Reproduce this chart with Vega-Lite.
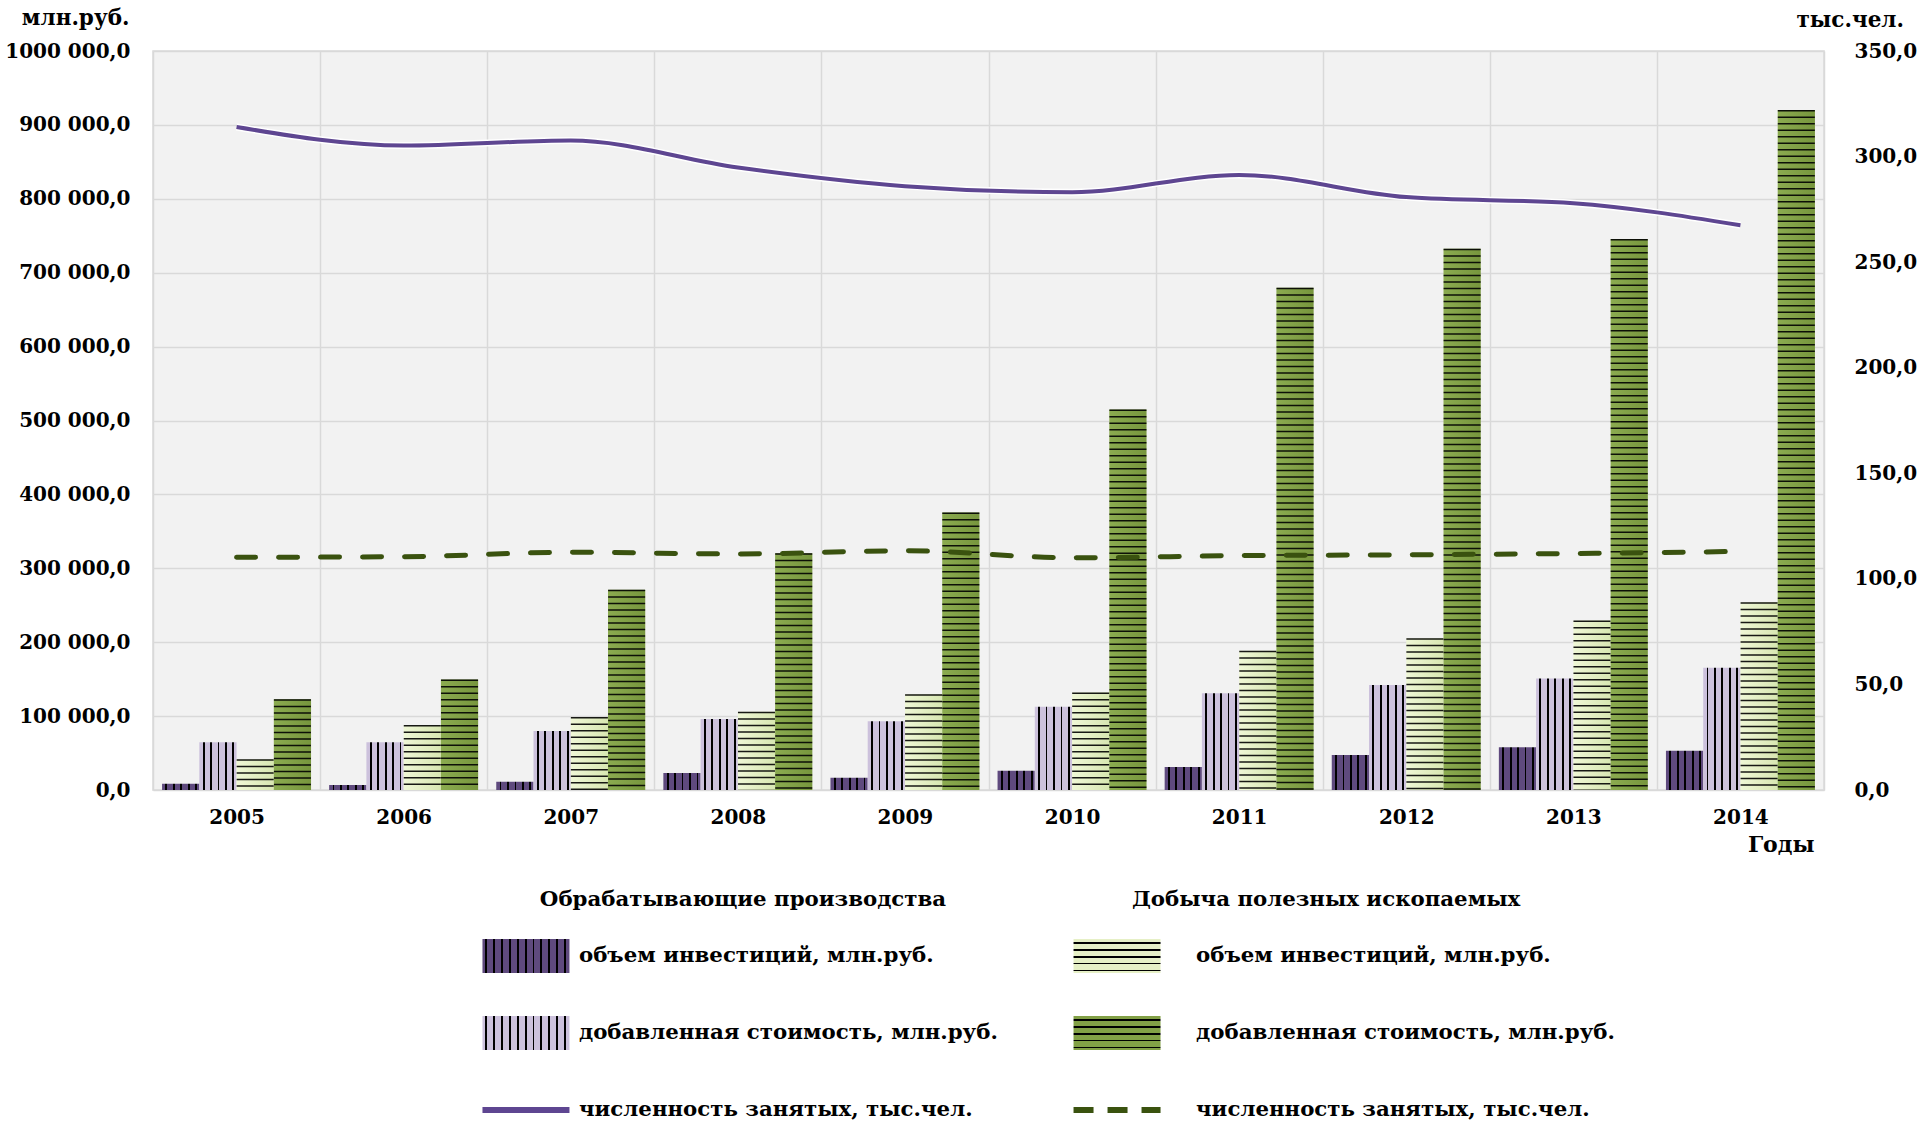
{
  "$schema": "https://vega.github.io/schema/vega-lite/v6.json",
  "padding": {"left": 3, "top": 6, "right": 5, "bottom": 0},
  "background": "white",
  "bounds": "flush",
  "spacing": 89,
  "config": {
    "locale": {"number": {"decimal": ",", "thousands": " ", "grouping": [3], "currency": ["", ""]}},
    "view": {"stroke": null},
    "axis": {"labelFont": "DejaVu Serif", "titleFont": "DejaVu Serif", "labelFontWeight": "bold", "titleFontWeight": "bold", "labelColor": "#000", "titleColor": "#000", "labelFontSize": 20, "titleFontSize": 21.5, "ticks": false, "domain": false},
    "text": {"font": "DejaVu Serif", "fontWeight": "bold", "fontSize": 21.3, "color": "#000"}
  },
  "datasets": {
    "bars": [
      {"year": "2005", "series": "obr_inv", "value": 8500}, {"year": "2005", "series": "obr_va", "value": 64500}, {"year": "2005", "series": "dob_inv", "value": 41500}, {"year": "2005", "series": "dob_va", "value": 122800},
      {"year": "2006", "series": "obr_inv", "value": 6800}, {"year": "2006", "series": "obr_va", "value": 64500}, {"year": "2006", "series": "dob_inv", "value": 88000}, {"year": "2006", "series": "dob_va", "value": 149500},
      {"year": "2007", "series": "obr_inv", "value": 11200}, {"year": "2007", "series": "obr_va", "value": 80000}, {"year": "2007", "series": "dob_inv", "value": 98800}, {"year": "2007", "series": "dob_va", "value": 271000},
      {"year": "2008", "series": "obr_inv", "value": 23000}, {"year": "2008", "series": "obr_va", "value": 96000}, {"year": "2008", "series": "dob_inv", "value": 106000}, {"year": "2008", "series": "dob_va", "value": 320500},
      {"year": "2009", "series": "obr_inv", "value": 16500}, {"year": "2009", "series": "obr_va", "value": 93000}, {"year": "2009", "series": "dob_inv", "value": 129500}, {"year": "2009", "series": "dob_va", "value": 375500},
      {"year": "2010", "series": "obr_inv", "value": 26000}, {"year": "2010", "series": "obr_va", "value": 112500}, {"year": "2010", "series": "dob_inv", "value": 132000}, {"year": "2010", "series": "dob_va", "value": 515000},
      {"year": "2011", "series": "obr_inv", "value": 31000}, {"year": "2011", "series": "obr_va", "value": 131000}, {"year": "2011", "series": "dob_inv", "value": 188500}, {"year": "2011", "series": "dob_va", "value": 679500},
      {"year": "2012", "series": "obr_inv", "value": 47500}, {"year": "2012", "series": "obr_va", "value": 142000}, {"year": "2012", "series": "dob_inv", "value": 205500}, {"year": "2012", "series": "dob_va", "value": 732500},
      {"year": "2013", "series": "obr_inv", "value": 58000}, {"year": "2013", "series": "obr_va", "value": 151000}, {"year": "2013", "series": "dob_inv", "value": 229500}, {"year": "2013", "series": "dob_va", "value": 745500},
      {"year": "2014", "series": "obr_inv", "value": 53000}, {"year": "2014", "series": "obr_va", "value": 165500}, {"year": "2014", "series": "dob_inv", "value": 254000}, {"year": "2014", "series": "dob_va", "value": 920000}
    ],
    "emp": [
      {"year": "2005", "group": "obr", "employed": 314.0}, {"year": "2006", "group": "obr", "employed": 305.2}, {"year": "2007", "group": "obr", "employed": 307.6}, {"year": "2008", "group": "obr", "employed": 294.8}, {"year": "2009", "group": "obr", "employed": 286.0},
      {"year": "2010", "group": "obr", "employed": 283.1}, {"year": "2011", "group": "obr", "employed": 291.3}, {"year": "2012", "group": "obr", "employed": 280.8}, {"year": "2013", "group": "obr", "employed": 277.9}, {"year": "2014", "group": "obr", "employed": 267.5},
      {"year": "2005", "group": "dob", "employed": 110.2}, {"year": "2006", "group": "dob", "employed": 110.5}, {"year": "2007", "group": "dob", "employed": 112.6}, {"year": "2008", "group": "dob", "employed": 111.8}, {"year": "2009", "group": "dob", "employed": 113.3},
      {"year": "2010", "group": "dob", "employed": 110.0}, {"year": "2011", "group": "dob", "employed": 111.0}, {"year": "2012", "group": "dob", "employed": 111.4}, {"year": "2013", "group": "dob", "employed": 112.0}, {"year": "2014", "group": "dob", "employed": 113.0}
    ],
    "leg": [
      {"grp": "obr", "row": "h", "label": "Обрабатывающие производства", "key": "h1"},
      {"grp": "obr", "row": "r1", "label": "объем инвестиций, млн.руб.", "key": "obr_inv"},
      {"grp": "obr", "row": "r2", "label": "добавленная стоимость, млн.руб.", "key": "obr_va"},
      {"grp": "obr", "row": "r3", "label": "численность занятых, тыс.чел.", "key": "obr_emp"},
      {"grp": "dob", "row": "h", "label": "Добыча полезных ископаемых", "key": "h2"},
      {"grp": "dob", "row": "r1", "label": "объем инвестиций, млн.руб.", "key": "dob_inv"},
      {"grp": "dob", "row": "r2", "label": "добавленная стоимость, млн.руб.", "key": "dob_va"},
      {"grp": "dob", "row": "r3", "label": "численность занятых, тыс.чел.", "key": "dob_emp"}
    ]
  },
  "vconcat": [
    {
      "width": 1671,
      "height": 739,
      "view": {"fill": "#f2f2f2", "stroke": "#d9d9d9", "strokeWidth": 1.5},
      "encoding": {
        "x": {
          "field": "year", "type": "ordinal",
          "scale": {"paddingInner": 0, "paddingOuter": 0},
          "axis": {"title": "Годы", "titleX": 1661, "titleY": 54, "titleAlign": "right", "titleBaseline": "middle", "titleAnchor": "end", "titleFontSize": 22,
            "labelAngle": 0, "labelFontSize": 20, "labelPadding": 17, "grid": true, "tickBand": "extent", "gridColor": "#d9d9d9", "gridWidth": 1.5}
        }
      },
      "layer": [
        {
          "data": {"name": "bars"},
          "encoding": {
            "xOffset": {"field": "series", "type": "nominal", "scale": {"domain": ["obr_inv", "obr_va", "dob_inv", "dob_va"], "paddingInner": 0, "paddingOuter": 0.243}},
            "y": {
              "field": "value", "type": "quantitative",
              "scale": {"domain": [0, 1000000], "nice": false},
              "axis": {"title": "млн.руб.", "titleAngle": 0, "titleX": -24, "titleY": -33, "titleAlign": "right", "titleBaseline": "middle",
                "values": [0, 100000, 200000, 300000, 400000, 500000, 600000, 700000, 800000, 900000, 1000000],
                "format": ",.1f", "labelExpr": "datum.value >= 1000000 ? replace(datum.label, '1 000', '1000') : datum.label",
                "labelPadding": 23, "grid": true, "gridColor": "#d9d9d9", "gridWidth": 1.5}
            }
          },
          "layer": [
            {
              "transform": [{"filter": "datum.series == 'obr_inv'"}],
              "mark": {"type": "bar", "fill": {"gradient": "linear", "x1": 0, "y1": 0, "x2": 1, "y2": 0, "stops": [
                {"offset": 0, "color": "#5f4a7e"}, {"offset": 0.09, "color": "#5f4a7e"}, {"offset": 0.09, "color": "#000"}, {"offset": 0.14, "color": "#000"}, {"offset": 0.14, "color": "#5f4a7e"},
                {"offset": 0.29, "color": "#5f4a7e"}, {"offset": 0.29, "color": "#000"}, {"offset": 0.34, "color": "#000"}, {"offset": 0.34, "color": "#5f4a7e"},
                {"offset": 0.49, "color": "#5f4a7e"}, {"offset": 0.49, "color": "#000"}, {"offset": 0.54, "color": "#000"}, {"offset": 0.54, "color": "#5f4a7e"},
                {"offset": 0.69, "color": "#5f4a7e"}, {"offset": 0.69, "color": "#000"}, {"offset": 0.74, "color": "#000"}, {"offset": 0.74, "color": "#5f4a7e"},
                {"offset": 0.89, "color": "#5f4a7e"}, {"offset": 0.89, "color": "#000"}, {"offset": 0.94, "color": "#000"}, {"offset": 0.94, "color": "#5f4a7e"}, {"offset": 1, "color": "#5f4a7e"}]}}
            },
            {
              "transform": [{"filter": "datum.series == 'obr_va'"}],
              "mark": {"type": "bar", "fill": {"gradient": "linear", "x1": 0, "y1": 0, "x2": 1, "y2": 0, "stops": [
                {"offset": 0, "color": "#ccc1dc"}, {"offset": 0.09, "color": "#ccc1dc"}, {"offset": 0.09, "color": "#000"}, {"offset": 0.14, "color": "#000"}, {"offset": 0.14, "color": "#ccc1dc"},
                {"offset": 0.29, "color": "#ccc1dc"}, {"offset": 0.29, "color": "#000"}, {"offset": 0.34, "color": "#000"}, {"offset": 0.34, "color": "#ccc1dc"},
                {"offset": 0.49, "color": "#ccc1dc"}, {"offset": 0.49, "color": "#000"}, {"offset": 0.54, "color": "#000"}, {"offset": 0.54, "color": "#ccc1dc"},
                {"offset": 0.69, "color": "#ccc1dc"}, {"offset": 0.69, "color": "#000"}, {"offset": 0.74, "color": "#000"}, {"offset": 0.74, "color": "#ccc1dc"},
                {"offset": 0.89, "color": "#ccc1dc"}, {"offset": 0.89, "color": "#000"}, {"offset": 0.94, "color": "#000"}, {"offset": 0.94, "color": "#ccc1dc"}, {"offset": 1, "color": "#ccc1dc"}]}}
            },
            {
              "transform": [{"filter": "datum.series == 'dob_inv'"}],
              "mark": {"type": "bar", "fill": {"gradient": "linear", "x1": 0, "y1": 0, "x2": 1, "y2": 0, "stops": [{"offset": 0, "color": "#eff7d6"}, {"offset": 1, "color": "#d8e7b2"}]}}
            },
            {
              "transform": [{"filter": "datum.series == 'dob_va'"}],
              "mark": {"type": "bar", "fill": {"gradient": "linear", "x1": 0, "y1": 0, "x2": 1, "y2": 0, "stops": [{"offset": 0, "color": "#8bab50"}, {"offset": 1, "color": "#77963d"}]}}
            },
            {
              "transform": [{"filter": "datum.series == 'dob_inv' || datum.series == 'dob_va'"}],
              "mark": {"type": "rule", "strokeWidth": 37, "strokeDash": [1.5, 5], "strokeCap": "butt", "color": "#000", "opacity": 0.9},
              "encoding": {"y2": {"datum": 0}}
            }
          ]
        },
        {
          "data": {"name": "emp"},
          "encoding": {
            "y": {
              "field": "employed", "type": "quantitative",
              "scale": {"domain": [0, 350], "nice": false},
              "axis": {"orient": "right", "title": "тыс.чел.", "titleAngle": 0, "titleX": -28, "titleY": -31, "titleAlign": "left", "titleBaseline": "middle",
                "values": [0, 50, 100, 150, 200, 250, 300, 350], "format": ".1f", "labelPadding": 30, "grid": false}
            }
          },
          "layer": [
            {"transform": [{"filter": "datum.group == 'obr'"}], "mark": {"type": "line", "interpolate": "monotone", "stroke": "white", "strokeWidth": 7}},
            {"transform": [{"filter": "datum.group == 'obr'"}], "mark": {"type": "line", "interpolate": "monotone", "stroke": "#5e4691", "strokeWidth": 4}},
            {"transform": [{"filter": "datum.group == 'dob'"}], "mark": {"type": "line", "interpolate": "monotone", "stroke": "#3a520f", "strokeWidth": 5, "strokeDash": [19, 23], "strokeCap": "round"}}
          ]
        }
      ],
      "resolve": {"scale": {"y": "independent"}}
    },
    {
      "width": 1337,
      "height": 231,
      "data": {"name": "leg"},
      "encoding": {
        "x": {"field": "grp", "type": "nominal", "scale": {"type": "point", "domain": ["obr", "dob"], "padding": 0.631}, "axis": null},
        "y": {"field": "row", "type": "ordinal", "scale": {"type": "point", "domain": ["h", "r1", "r2", "r3"], "padding": 0}, "axis": null}
      },
      "layer": [
        {"transform": [{"filter": "datum.row == 'h' && datum.grp == 'obr'"}], "mark": {"type": "text", "align": "center", "baseline": "middle", "dx": 217, "dy": 21}, "encoding": {"text": {"field": "label"}}},
        {"transform": [{"filter": "datum.row == 'h' && datum.grp == 'dob'"}], "mark": {"type": "text", "align": "center", "baseline": "middle", "dx": 209, "dy": 21}, "encoding": {"text": {"field": "label"}}},
        {"transform": [{"filter": "datum.row != 'h' && datum.grp == 'obr'"}], "mark": {"type": "text", "align": "left", "baseline": "middle", "dx": 53}, "encoding": {"text": {"field": "label"}}},
        {"transform": [{"filter": "datum.row != 'h' && datum.grp == 'dob'"}], "mark": {"type": "text", "align": "left", "baseline": "middle", "dx": 79}, "encoding": {"text": {"field": "label"}}},
        {"transform": [{"filter": "datum.key == 'obr_inv'"}], "mark": {"type": "point", "shape": "M-1,-0.39H1V0.39H-1Z", "size": 7569, "filled": true, "opacity": 1, "strokeWidth": 0,
          "fill": {"gradient": "linear", "x1": 0, "y1": 0, "x2": 1, "y2": 0, "stops": [
            {"offset": 0, "color": "#5f4a7e"}, {"offset": 0.03, "color": "#5f4a7e"}, {"offset": 0.03, "color": "#000"}, {"offset": 0.052, "color": "#000"}, {"offset": 0.052, "color": "#5f4a7e"},
            {"offset": 0.121, "color": "#5f4a7e"}, {"offset": 0.121, "color": "#000"}, {"offset": 0.143, "color": "#000"}, {"offset": 0.143, "color": "#5f4a7e"},
            {"offset": 0.212, "color": "#5f4a7e"}, {"offset": 0.212, "color": "#000"}, {"offset": 0.234, "color": "#000"}, {"offset": 0.234, "color": "#5f4a7e"},
            {"offset": 0.303, "color": "#5f4a7e"}, {"offset": 0.303, "color": "#000"}, {"offset": 0.325, "color": "#000"}, {"offset": 0.325, "color": "#5f4a7e"},
            {"offset": 0.394, "color": "#5f4a7e"}, {"offset": 0.394, "color": "#000"}, {"offset": 0.416, "color": "#000"}, {"offset": 0.416, "color": "#5f4a7e"},
            {"offset": 0.485, "color": "#5f4a7e"}, {"offset": 0.485, "color": "#000"}, {"offset": 0.507, "color": "#000"}, {"offset": 0.507, "color": "#5f4a7e"},
            {"offset": 0.576, "color": "#5f4a7e"}, {"offset": 0.576, "color": "#000"}, {"offset": 0.598, "color": "#000"}, {"offset": 0.598, "color": "#5f4a7e"},
            {"offset": 0.667, "color": "#5f4a7e"}, {"offset": 0.667, "color": "#000"}, {"offset": 0.689, "color": "#000"}, {"offset": 0.689, "color": "#5f4a7e"},
            {"offset": 0.758, "color": "#5f4a7e"}, {"offset": 0.758, "color": "#000"}, {"offset": 0.78, "color": "#000"}, {"offset": 0.78, "color": "#5f4a7e"},
            {"offset": 0.849, "color": "#5f4a7e"}, {"offset": 0.849, "color": "#000"}, {"offset": 0.871, "color": "#000"}, {"offset": 0.871, "color": "#5f4a7e"},
            {"offset": 0.94, "color": "#5f4a7e"}, {"offset": 0.94, "color": "#000"}, {"offset": 0.962, "color": "#000"}, {"offset": 0.962, "color": "#5f4a7e"}, {"offset": 1, "color": "#5f4a7e"}]}}},
        {"transform": [{"filter": "datum.key == 'obr_va'"}], "mark": {"type": "point", "shape": "M-1,-0.39H1V0.39H-1Z", "size": 7569, "filled": true, "opacity": 1, "strokeWidth": 0,
          "fill": {"gradient": "linear", "x1": 0, "y1": 0, "x2": 1, "y2": 0, "stops": [
            {"offset": 0, "color": "#ccc1dc"}, {"offset": 0.03, "color": "#ccc1dc"}, {"offset": 0.03, "color": "#000"}, {"offset": 0.052, "color": "#000"}, {"offset": 0.052, "color": "#ccc1dc"},
            {"offset": 0.121, "color": "#ccc1dc"}, {"offset": 0.121, "color": "#000"}, {"offset": 0.143, "color": "#000"}, {"offset": 0.143, "color": "#ccc1dc"},
            {"offset": 0.212, "color": "#ccc1dc"}, {"offset": 0.212, "color": "#000"}, {"offset": 0.234, "color": "#000"}, {"offset": 0.234, "color": "#ccc1dc"},
            {"offset": 0.303, "color": "#ccc1dc"}, {"offset": 0.303, "color": "#000"}, {"offset": 0.325, "color": "#000"}, {"offset": 0.325, "color": "#ccc1dc"},
            {"offset": 0.394, "color": "#ccc1dc"}, {"offset": 0.394, "color": "#000"}, {"offset": 0.416, "color": "#000"}, {"offset": 0.416, "color": "#ccc1dc"},
            {"offset": 0.485, "color": "#ccc1dc"}, {"offset": 0.485, "color": "#000"}, {"offset": 0.507, "color": "#000"}, {"offset": 0.507, "color": "#ccc1dc"},
            {"offset": 0.576, "color": "#ccc1dc"}, {"offset": 0.576, "color": "#000"}, {"offset": 0.598, "color": "#000"}, {"offset": 0.598, "color": "#ccc1dc"},
            {"offset": 0.667, "color": "#ccc1dc"}, {"offset": 0.667, "color": "#000"}, {"offset": 0.689, "color": "#000"}, {"offset": 0.689, "color": "#ccc1dc"},
            {"offset": 0.758, "color": "#ccc1dc"}, {"offset": 0.758, "color": "#000"}, {"offset": 0.78, "color": "#000"}, {"offset": 0.78, "color": "#ccc1dc"},
            {"offset": 0.849, "color": "#ccc1dc"}, {"offset": 0.849, "color": "#000"}, {"offset": 0.871, "color": "#000"}, {"offset": 0.871, "color": "#ccc1dc"},
            {"offset": 0.94, "color": "#ccc1dc"}, {"offset": 0.94, "color": "#000"}, {"offset": 0.962, "color": "#000"}, {"offset": 0.962, "color": "#ccc1dc"}, {"offset": 1, "color": "#ccc1dc"}]}}},
        {"transform": [{"filter": "datum.key == 'dob_inv'"}], "mark": {"type": "point", "shape": "M-1,-0.39H1V0.39H-1Z", "size": 7569, "filled": true, "opacity": 1, "strokeWidth": 0,
          "fill": {"gradient": "linear", "x1": 0, "y1": 0, "x2": 0, "y2": 1, "stops": [
            {"offset": 0, "color": "#e6f0c6"}, {"offset": 0.1, "color": "#e6f0c6"}, {"offset": 0.1, "color": "#000"}, {"offset": 0.15, "color": "#000"}, {"offset": 0.15, "color": "#e6f0c6"},
            {"offset": 0.3, "color": "#e6f0c6"}, {"offset": 0.3, "color": "#000"}, {"offset": 0.35, "color": "#000"}, {"offset": 0.35, "color": "#e6f0c6"},
            {"offset": 0.5, "color": "#e6f0c6"}, {"offset": 0.5, "color": "#000"}, {"offset": 0.55, "color": "#000"}, {"offset": 0.55, "color": "#e6f0c6"},
            {"offset": 0.7, "color": "#e6f0c6"}, {"offset": 0.7, "color": "#000"}, {"offset": 0.75, "color": "#000"}, {"offset": 0.75, "color": "#e6f0c6"},
            {"offset": 0.9, "color": "#e6f0c6"}, {"offset": 0.9, "color": "#000"}, {"offset": 0.95, "color": "#000"}, {"offset": 0.95, "color": "#e6f0c6"}, {"offset": 1, "color": "#e6f0c6"}]}}},
        {"transform": [{"filter": "datum.key == 'dob_va'"}], "mark": {"type": "point", "shape": "M-1,-0.39H1V0.39H-1Z", "size": 7569, "filled": true, "opacity": 1, "strokeWidth": 0,
          "fill": {"gradient": "linear", "x1": 0, "y1": 0, "x2": 0, "y2": 1, "stops": [
            {"offset": 0, "color": "#82a046"}, {"offset": 0.1, "color": "#82a046"}, {"offset": 0.1, "color": "#000"}, {"offset": 0.15, "color": "#000"}, {"offset": 0.15, "color": "#82a046"},
            {"offset": 0.3, "color": "#82a046"}, {"offset": 0.3, "color": "#000"}, {"offset": 0.35, "color": "#000"}, {"offset": 0.35, "color": "#82a046"},
            {"offset": 0.5, "color": "#82a046"}, {"offset": 0.5, "color": "#000"}, {"offset": 0.55, "color": "#000"}, {"offset": 0.55, "color": "#82a046"},
            {"offset": 0.7, "color": "#82a046"}, {"offset": 0.7, "color": "#000"}, {"offset": 0.75, "color": "#000"}, {"offset": 0.75, "color": "#82a046"},
            {"offset": 0.9, "color": "#82a046"}, {"offset": 0.9, "color": "#000"}, {"offset": 0.95, "color": "#000"}, {"offset": 0.95, "color": "#82a046"}, {"offset": 1, "color": "#82a046"}]}}},
        {"transform": [{"filter": "datum.key == 'obr_emp'"}], "mark": {"type": "point", "shape": "M-1,0H1", "size": 7569, "filled": false, "opacity": 1, "stroke": "#5e4691", "strokeWidth": 6, "strokeCap": "butt"}},
        {"transform": [{"filter": "datum.key == 'dob_emp'"}], "mark": {"type": "point", "shape": "M-1,0H1", "size": 7569, "filled": false, "opacity": 1, "stroke": "#3a520f", "strokeWidth": 6, "strokeDash": [20, 14], "strokeCap": "butt"}}
      ]
    }
  ]
}
